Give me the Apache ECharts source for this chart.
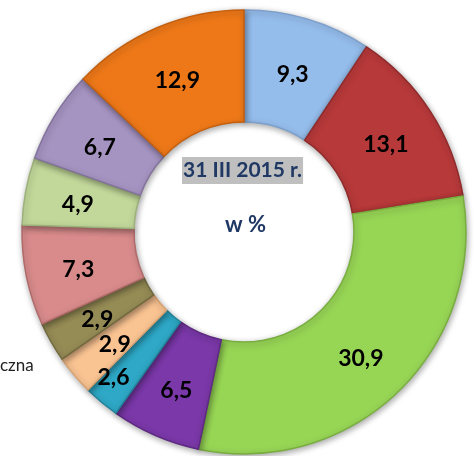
<!DOCTYPE html>
<html>
<head>
<meta charset="utf-8">
<script src="https://cdn.jsdelivr.net/npm/echarts@6/dist/echarts.min.js"></script>
<style>
  html, body { margin: 0; padding: 0; background: #fff; }
  #chart { width: 474px; height: 456px; }
</style>
</head>
<body>
<div id="chart"></div>
<script>
// wartości w %, zgodnie z ruchem wskazówek zegara od góry
const values = [9.3, 13.1, 30.9, 6.5, 2.6, 2.9, 2.9, 7.3, 4.9, 6.7, 12.9];
const colors = [
  "#95bdec", "#b8393a", "#97d555", "#7a38a8", "#2ea8c6", "#f9c392",
  "#958b55", "#d98b8b", "#c2d89a", "#a593c1", "#ee7818"
];
const borders = [
  "#7d9fcb", "#8f2b2b", "#78ad3f", "#5e2a83", "#22839c", "#d7a170",
  "#726a3f", "#b06a6a", "#9db27a", "#82729d", "#c45f0e"
];

const chart = echarts.init(document.getElementById("chart"));

const data = values.map((v, i) => ({
  value: v,
  itemStyle: { color: colors[i], borderColor: borders[i], borderWidth: 1.5 }
}));

chart.setOption({
  animation: false,
  series: [
    {
      type: "pie",
      center: [244, 232],
      radius: [110, 222],
      startAngle: 90,
      clockwise: true,
      data: data,
      itemStyle: {
        shadowBlur: 6,
        shadowColor: "rgba(0,0,0,0.35)",
        shadowOffsetX: 1,
        shadowOffsetY: 2
      },
      label: {
        show: true,
        position: "inside",
        formatter: p => String(p.value).replace(".", ","),
        color: "#000",
        fontFamily: "Lato",
        fontWeight: "bold",
        fontSize: 23
      },
      // etykieta 2,6 jest wysunięta na zewnątrz
      labelLayout: p => (p.dataIndex === 4 ? { dx: -22, dy: 16 } : { dy: 4 }),
      labelLine: { show: false }
    }
  ],
  graphic: [
    {
      type: "text",
      left: 182,
      top: 157,
      style: {
        text: "31 III 2015 r.",
        fontFamily: "Lato",
        fontWeight: "bold",
        fontSize: 21,
        fill: "#1f3864",
        backgroundColor: "#bfbfbf",
        padding: [3, 1, 3, 1]
      }
    },
    {
      type: "text",
      left: 225,
      top: 214,
      style: {
        text: "w %",
        fontFamily: "Lato",
        fontWeight: "bold",
        fontSize: 22,
        fill: "#1f3864"
      }
    },
    {
      type: "text",
      left: 0,
      top: 357,
      style: {
        text: "czna",
        fontFamily: "Lato",
        fontSize: 17,
        fill: "#222"
      }
    }
  ]
});
</script>
</body>
</html>
